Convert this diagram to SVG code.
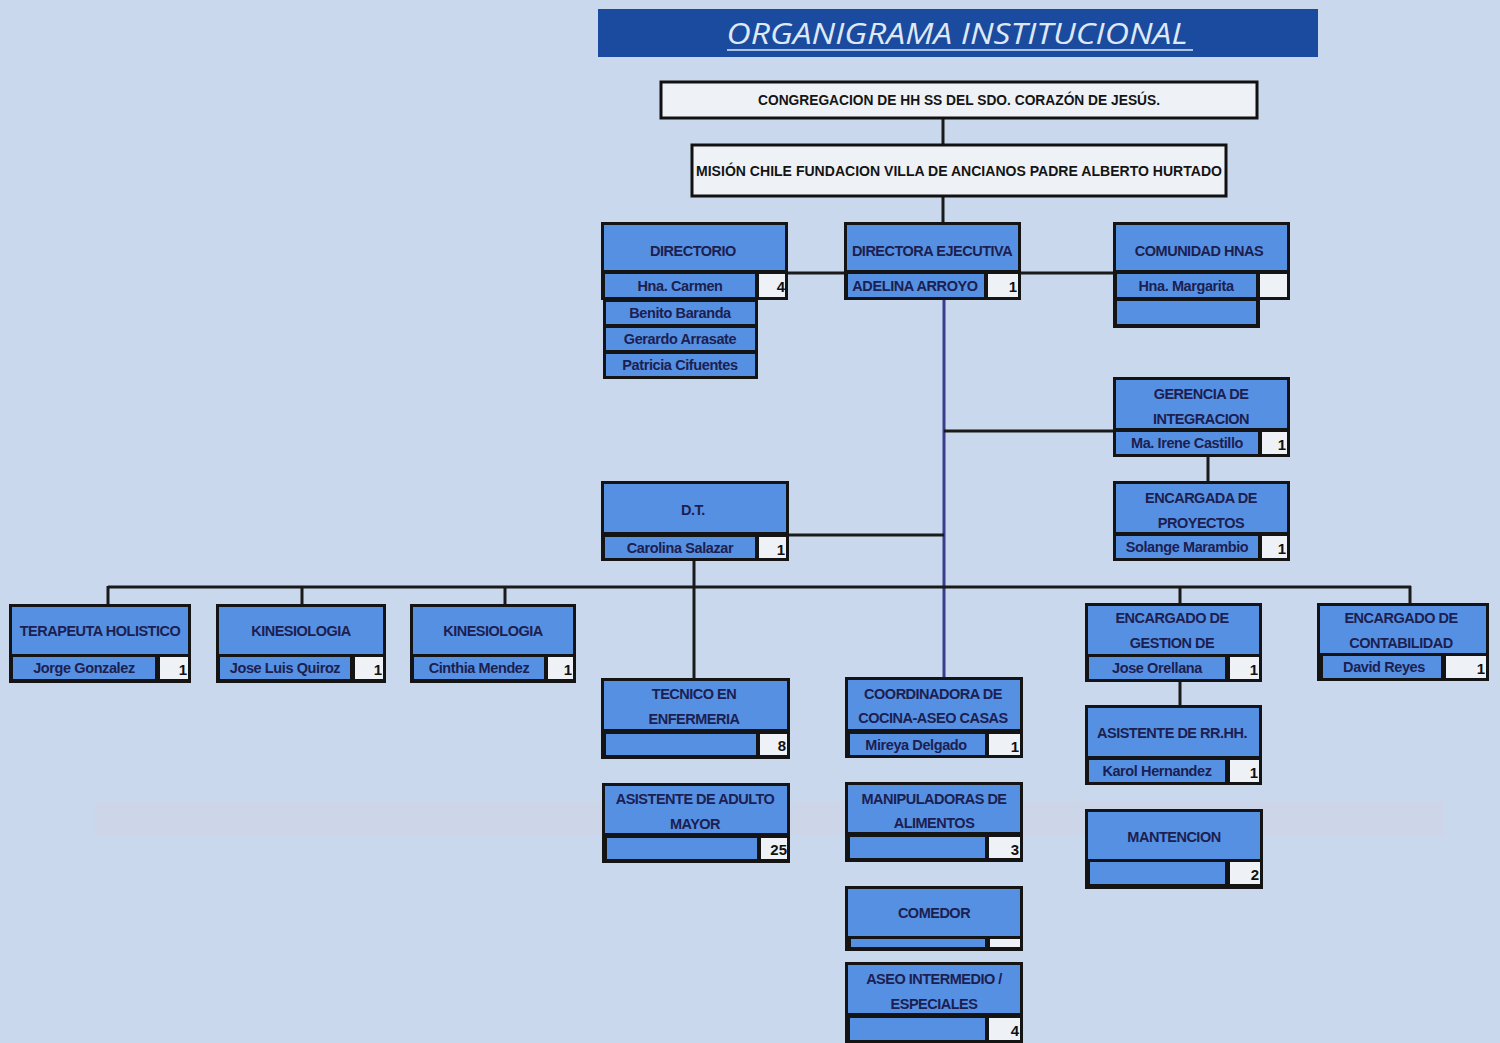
<svg xmlns="http://www.w3.org/2000/svg" width="1500" height="1043" viewBox="0 0 1500 1043">
<style>
.frame{fill:#141414}
.hdr{fill:#5690e3}
.cell{fill:#5690e3}
.num{fill:#eef2f6}
.t{font-family:"Liberation Sans",Arial,sans-serif;font-size:14.5px;font-weight:bold;fill:#1c2050;text-anchor:middle;letter-spacing:-0.5px}
.nm{font-family:"Liberation Sans",Arial,sans-serif;font-size:14.5px;font-weight:bold;fill:#1c2050;text-anchor:middle;letter-spacing:-0.4px}
.n{font-family:"Liberation Sans",Arial,sans-serif;font-size:15px;font-weight:bold;fill:#111;text-anchor:end}
.top{fill:#eef2f7;stroke:#111;stroke-width:3}
.tt{font-family:"Liberation Sans",Arial,sans-serif;font-size:14px;font-weight:bold;fill:#141414;text-anchor:middle}
.c{stroke:#1a1a1a;stroke-width:3;fill:none}
.cv{stroke:#3b3d8c;stroke-width:3;fill:none}
</style>
<rect x="0" y="0" width="1500" height="1043" fill="#c9d8ec"/>
<rect x="95" y="802" width="1350" height="34" fill="#d8cde0" opacity="0.3"/>

<g id="title">
<rect x="598" y="9" width="720" height="48" fill="#1b4b9e"/>
<text x="957" y="44" font-family="'Open Sans','DejaVu Sans',sans-serif" font-style="italic" font-size="30" fill="#dfe8f6" text-anchor="middle" textLength="461" lengthAdjust="spacingAndGlyphs">ORGANIGRAMA INSTITUCIONAL</text>
<line x1="727" y1="50" x2="1193" y2="50" stroke="#dfe8f6" stroke-width="1.5"/>
</g>

<g id="connectors">
<line class="c" x1="943" y1="118" x2="943" y2="145"/>
<line class="c" x1="943" y1="196" x2="943" y2="222"/>
<line class="c" x1="788" y1="273" x2="844" y2="273"/>
<line class="c" x1="1021" y1="273" x2="1113" y2="273"/>
<line class="cv" x1="944" y1="300" x2="944" y2="677"/>
<line class="c" x1="944" y1="431" x2="1113" y2="431"/>
<line class="c" x1="1208" y1="457" x2="1208" y2="481"/>
<line class="c" x1="789" y1="535" x2="944" y2="535"/>
<line class="c" x1="694" y1="561" x2="694" y2="678"/>
<line class="c" x1="108" y1="587" x2="1411" y2="587"/>
<line class="c" x1="108" y1="586" x2="108" y2="604"/>
<line class="c" x1="302" y1="586" x2="302" y2="604"/>
<line class="c" x1="505" y1="586" x2="505" y2="604"/>
<line class="c" x1="1180" y1="586" x2="1180" y2="603"/>
<line class="c" x1="1410" y1="586" x2="1410" y2="603"/>
<line class="c" x1="1180" y1="682" x2="1180" y2="705"/>
</g>

<g id="congregacion">
<rect class="top" x="661" y="82" width="596" height="36"/>
<text class="tt" x="959" y="105" textLength="402" lengthAdjust="spacingAndGlyphs">CONGREGACION DE HH SS DEL SDO. CORAZÓN DE JESÚS.</text>
</g>

<g id="mision">
<rect class="top" x="692" y="145" width="534" height="51"/>
<text class="tt" x="959" y="176" textLength="526" lengthAdjust="spacingAndGlyphs">MISIÓN CHILE FUNDACION VILLA DE ANCIANOS PADRE ALBERTO HURTADO</text>
</g>

<g id="directorio">
<rect class="frame" x="603" y="296" width="155" height="83"/>
<rect class="cell" x="606" y="302" width="149" height="22"/>
<rect class="cell" x="606" y="328" width="149" height="22"/>
<rect class="cell" x="606" y="354" width="149" height="22"/>
<rect class="frame" x="601" y="222" width="187" height="78"/>
<rect class="hdr" x="604" y="225" width="181" height="45"/>
<rect class="cell" x="605" y="274" width="150" height="23"/>
<rect class="num" x="759" y="274" width="26" height="23"/>
<text class="t" x="693" y="256">DIRECTORIO</text>
<text class="nm" x="680" y="291">Hna. Carmen</text>
<text class="n" x="785" y="292">4</text>
<text class="nm" x="680" y="318">Benito Baranda</text>
<text class="nm" x="680" y="344">Gerardo Arrasate</text>
<text class="nm" x="680" y="370">Patricia Cifuentes</text>
</g>

<g id="directora">
<rect class="frame" x="844" y="222" width="177" height="78"/>
<rect class="hdr" x="847" y="225" width="171" height="45"/>
<rect class="cell" x="848" y="274" width="136" height="23"/>
<rect class="num" x="988" y="274" width="30" height="23"/>
<text class="t" x="932" y="256">DIRECTORA EJECUTIVA</text>
<text class="nm" x="915" y="291">ADELINA ARROYO</text>
<text class="n" x="1017" y="292">1</text>
</g>

<g id="comunidad">
<rect class="frame" x="1113" y="296" width="147" height="32"/>
<rect class="cell" x="1117" y="301" width="139" height="23"/>
<rect class="frame" x="1113" y="222" width="177" height="78"/>
<rect class="hdr" x="1116" y="225" width="171" height="45"/>
<rect class="cell" x="1117" y="274" width="139" height="23"/>
<rect class="num" x="1260" y="274" width="27" height="23"/>
<text class="t" x="1199" y="256">COMUNIDAD HNAS</text>
<text class="nm" x="1186" y="291">Hna. Margarita</text>
</g>

<g id="gerencia">
<rect class="frame" x="1113" y="377" width="177" height="80"/>
<rect class="hdr" x="1116" y="380" width="171" height="48"/>
<rect class="cell" x="1116" y="432" width="142" height="22"/>
<rect class="num" x="1262" y="432" width="25" height="22"/>
<text class="t" x="1201" y="399">GERENCIA DE</text>
<text class="t" x="1201" y="424">INTEGRACION</text>
<text class="nm" x="1187" y="448">Ma. Irene Castillo</text>
<text class="n" x="1286" y="450">1</text>
</g>

<g id="proyectos">
<rect class="frame" x="1113" y="481" width="177" height="80"/>
<rect class="hdr" x="1116" y="484" width="171" height="48"/>
<rect class="cell" x="1116" y="536" width="142" height="22"/>
<rect class="num" x="1262" y="536" width="25" height="22"/>
<text class="t" x="1201" y="503">ENCARGADA DE</text>
<text class="t" x="1201" y="528">PROYECTOS</text>
<text class="nm" x="1187" y="552">Solange Marambio</text>
<text class="n" x="1286" y="554">1</text>
</g>

<g id="dt">
<rect class="frame" x="601" y="481" width="188" height="80"/>
<rect class="hdr" x="604" y="484" width="182" height="48"/>
<rect class="cell" x="605" y="537" width="150" height="21"/>
<rect class="num" x="759" y="537" width="27" height="21"/>
<text class="t" x="693" y="515">D.T.</text>
<text class="nm" x="680" y="553">Carolina Salazar</text>
<text class="n" x="785" y="555">1</text>
</g>

<g id="terapeuta">
<rect class="frame" x="9" y="604" width="182" height="79"/>
<rect class="hdr" x="12" y="607" width="176" height="47"/>
<rect class="cell" x="13" y="657" width="142" height="22"/>
<rect class="num" x="160" y="657" width="28" height="22"/>
<text class="t" x="100" y="636">TERAPEUTA HOLISTICO</text>
<text class="nm" x="84" y="673">Jorge Gonzalez</text>
<text class="n" x="187" y="675">1</text>
</g>

<g id="kinesiologia1">
<rect class="frame" x="216" y="604" width="170" height="79"/>
<rect class="hdr" x="219" y="607" width="164" height="47"/>
<rect class="cell" x="220" y="657" width="130" height="22"/>
<rect class="num" x="355" y="657" width="28" height="22"/>
<text class="t" x="301" y="636">KINESIOLOGIA</text>
<text class="nm" x="285" y="673">Jose Luis Quiroz</text>
<text class="n" x="382" y="675">1</text>
</g>

<g id="kinesiologia2">
<rect class="frame" x="410" y="604" width="166" height="79"/>
<rect class="hdr" x="413" y="607" width="160" height="47"/>
<rect class="cell" x="414" y="657" width="130" height="22"/>
<rect class="num" x="548" y="657" width="25" height="22"/>
<text class="t" x="493" y="636">KINESIOLOGIA</text>
<text class="nm" x="479" y="673">Cinthia Mendez</text>
<text class="n" x="572" y="675">1</text>
</g>

<g id="gestion">
<rect class="frame" x="1085" y="603" width="177" height="79"/>
<rect class="hdr" x="1088" y="606" width="171" height="48"/>
<rect class="cell" x="1089" y="657" width="136" height="22"/>
<rect class="num" x="1230" y="657" width="29" height="22"/>
<text class="t" x="1172" y="623">ENCARGADO DE</text>
<text class="t" x="1172" y="648">GESTION DE</text>
<text class="nm" x="1157" y="673">Jose Orellana</text>
<text class="n" x="1258" y="675">1</text>
</g>

<g id="contabilidad">
<rect class="frame" x="1317" y="603" width="172" height="78"/>
<rect class="hdr" x="1320" y="606" width="166" height="47"/>
<rect class="cell" x="1323" y="656" width="118" height="22"/>
<rect class="num" x="1446" y="656" width="40" height="22"/>
<text class="t" x="1401" y="623">ENCARGADO DE</text>
<text class="t" x="1401" y="648">CONTABILIDAD</text>
<text class="nm" x="1384" y="672">David Reyes</text>
<text class="n" x="1485" y="674">1</text>
</g>

<g id="rrhh">
<rect class="frame" x="1085" y="705" width="177" height="80"/>
<rect class="hdr" x="1088" y="708" width="171" height="48"/>
<rect class="cell" x="1089" y="760" width="136" height="22"/>
<rect class="num" x="1230" y="760" width="29" height="22"/>
<text class="t" x="1172" y="738">ASISTENTE DE RR.HH.</text>
<text class="nm" x="1157" y="776">Karol Hernandez</text>
<text class="n" x="1258" y="778">1</text>
</g>

<g id="mantencion">
<rect class="frame" x="1085" y="809" width="178" height="80"/>
<rect class="hdr" x="1088" y="812" width="172" height="47"/>
<rect class="cell" x="1090" y="862" width="135" height="22"/>
<rect class="num" x="1230" y="862" width="30" height="22"/>
<text class="t" x="1174" y="842">MANTENCION</text>
<text class="n" x="1259" y="880">2</text>
</g>

<g id="tecnico">
<rect class="frame" x="601" y="678" width="189" height="81"/>
<rect class="hdr" x="604" y="681" width="183" height="48"/>
<rect class="cell" x="606" y="734" width="150" height="21"/>
<rect class="num" x="760" y="734" width="27" height="21"/>
<text class="t" x="694" y="699">TECNICO EN</text>
<text class="t" x="694" y="724">ENFERMERIA</text>
<text class="n" x="786" y="751">8</text>
</g>

<g id="asistente-adulto">
<rect class="frame" x="602" y="783" width="188" height="80"/>
<rect class="hdr" x="605" y="786" width="182" height="47"/>
<rect class="cell" x="607" y="838" width="150" height="21"/>
<rect class="num" x="761" y="838" width="26" height="21"/>
<text class="t" x="695" y="804">ASISTENTE DE ADULTO</text>
<text class="t" x="695" y="829">MAYOR</text>
<text class="n" x="787" y="855">25</text>
</g>

<g id="coordinadora">
<rect class="frame" x="845" y="677" width="178" height="81"/>
<rect class="hdr" x="848" y="680" width="172" height="49"/>
<rect class="cell" x="850" y="734" width="135" height="21"/>
<rect class="num" x="989" y="734" width="31" height="21"/>
<text class="t" x="933" y="699">COORDINADORA DE</text>
<text class="t" x="933" y="723">COCINA-ASEO CASAS</text>
<text class="nm" x="916" y="750">Mireya Delgado</text>
<text class="n" x="1019" y="752">1</text>
</g>

<g id="manipuladoras">
<rect class="frame" x="845" y="782" width="178" height="80"/>
<rect class="hdr" x="848" y="785" width="172" height="47"/>
<rect class="cell" x="850" y="837" width="135" height="21"/>
<rect class="num" x="989" y="837" width="31" height="21"/>
<text class="t" x="934" y="804">MANIPULADORAS DE</text>
<text class="t" x="934" y="828">ALIMENTOS</text>
<text class="n" x="1019" y="855">3</text>
</g>

<g id="comedor">
<rect class="frame" x="845" y="886" width="178" height="65"/>
<rect class="hdr" x="848" y="889" width="172" height="47"/>
<rect class="cell" x="851" y="939" width="134" height="8"/>
<rect class="num" x="990" y="939" width="30" height="8"/>
<text class="t" x="934" y="918">COMEDOR</text>
</g>

<g id="aseo">
<rect class="frame" x="845" y="962" width="178" height="85"/>
<rect class="hdr" x="848" y="965" width="172" height="48"/>
<rect class="cell" x="850" y="1018" width="135" height="22"/>
<rect class="num" x="989" y="1018" width="31" height="22"/>
<text class="t" x="934" y="984">ASEO INTERMEDIO /</text>
<text class="t" x="934" y="1009">ESPECIALES</text>
<text class="n" x="1019" y="1036">4</text>
</g>
</svg>
